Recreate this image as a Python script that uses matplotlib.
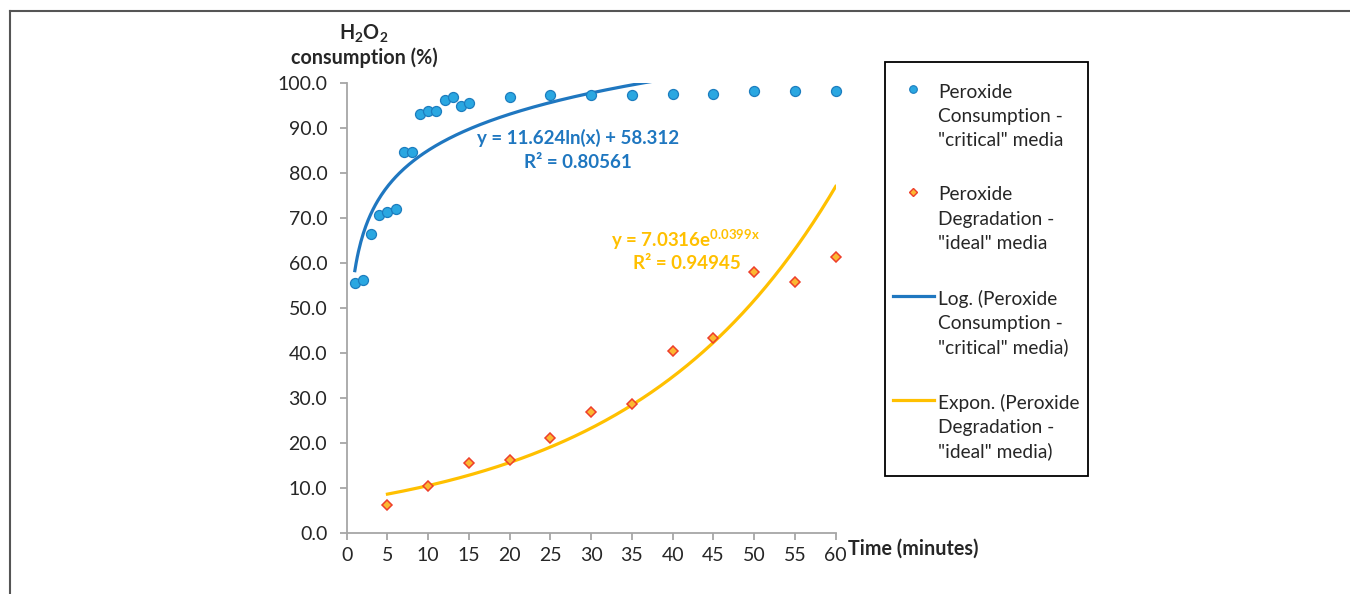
import numpy as np
import matplotlib
matplotlib.use("Agg")
import matplotlib.pyplot as plt
from matplotlib.lines import Line2D
from matplotlib.patches import Rectangle

plt.rcParams['font.family'] = ['Lato', 'DejaVu Sans']
plt.rcParams['mathtext.fontset'] = 'custom'
plt.rcParams['mathtext.rm'] = 'Lato'
plt.rcParams['mathtext.bf'] = 'Lato:bold'

# ---- data ----
crit_time = [1, 2, 3, 4, 5, 6, 7, 8, 9, 10, 11, 12, 13, 14, 15, 20, 25, 30, 35, 40, 45, 50, 55, 60]
crit_cons = [55.5, 56.2, 66.4, 70.8, 71.4, 72.1, 84.8, 84.8, 93.1, 93.8, 93.8, 96.3, 97.0, 94.9,
             95.6, 97.0, 97.5, 97.5, 97.5, 97.6, 97.6, 98.2, 98.2, 98.2]
ideal_time = [5, 10, 15, 20, 25, 30, 35, 40, 45, 50, 55, 60]
ideal_deg = [6.1, 10.4, 15.4, 16.1, 21.1, 26.8, 28.6, 40.5, 43.3, 58.1, 55.7, 61.3]

# trendline coefficients as displayed on the chart
log_a, log_b = 11.624, 58.312
exp_a, exp_b = 7.0316, 0.0399

x_ticks = list(range(0, 61, 5))
y_ticks = list(range(0, 101, 10))

legend_labels = [
    ['Peroxide', 'Consumption -', '"critical" media'],
    ['Peroxide', 'Degradation -', '"ideal" media'],
    ['Log. (Peroxide', 'Consumption -', '"critical" media)'],
    ['Expon. (Peroxide', 'Degradation -', '"ideal" media)'],
]

blue_fill = '#2AA7E1'
blue_edge = '#1C7DBF'
blue_line = '#1F77C0'
orange_fill = '#FBB832'
orange_edge = '#EE3E2A'
yellow_line = '#FFC000'
grey = '#A6A6A6'
text_col = '#262626'

W, H = 1350, 594
fig = plt.figure(figsize=(W / 100, H / 100), dpi=100)
ax = fig.add_axes([346.7 / W, 1 - 532.7 / H, (835.7 - 346.7) / W, (532.7 - 83.3) / H])

xl = np.linspace(min(crit_time), max(crit_time), 400)
ax.plot(xl, log_a * np.log(xl) + log_b, color=blue_line, lw=2.3, zorder=2)
xe = np.linspace(min(ideal_time), max(ideal_time), 400)
ax.plot(xe, exp_a * np.exp(exp_b * xe), color=yellow_line, lw=2.3, zorder=2)

ax.plot(crit_time, crit_cons, 'o', ms=7.2, mfc=blue_fill, mec=blue_edge, mew=0.9,
        clip_on=False, zorder=3)
ax.plot(ideal_time, ideal_deg, 'D', ms=5.4, mfc=orange_fill, mec=orange_edge, mew=1.1,
        clip_on=False, zorder=3)

ax.set_xlim(0, 60)
ax.set_ylim(0, 100)
ax.set_xticks(x_ticks)
ax.set_yticks(y_ticks)
ax.set_yticklabels([f"{v:.1f}" for v in y_ticks])
for s in ['top', 'right']:
    ax.spines[s].set_visible(False)
for s in ['left', 'bottom']:
    ax.spines[s].set_color(grey)
    ax.spines[s].set_linewidth(1.3)
ax.tick_params(axis='both', colors=grey, length=5, width=1.3, labelsize=14,
               labelcolor=text_col, direction='out')
ax.tick_params(axis='y', pad=9)
ax.tick_params(axis='x', pad=5)

# equations
EQ = 13.5
ax.text(28.4, 87.8, "y = 11.624ln(x) + 58.312", color=blue_line, fontsize=EQ,
        fontweight='bold', ha='center', va='center')
ax.text(28.4, 82.4, "R² = 0.80561", color=blue_line, fontsize=EQ,
        fontweight='bold', ha='center', va='center')
ax.text(41.6, 65.3, r"y = 7.0316e$^{\mathbf{0.0399x}}$", color=yellow_line, fontsize=EQ,
        fontweight='bold', ha='center', va='center')
ax.text(41.8, 60.0, "R² = 0.94945", color=yellow_line, fontsize=EQ,
        fontweight='bold', ha='center', va='center')

# axis titles
AT = 14.2
fig.text(364 / W, 1 - 34 / H, r"H$_\mathbf{2}$O$_\mathbf{2}$", fontsize=AT,
         fontweight='bold', color=text_col, ha='center', va='center')
fig.text(364 / W, 1 - 58 / H, "consumption (%)", fontsize=AT,
         fontweight='bold', color=text_col, ha='center', va='center')
fig.text(848 / W, 1 - 549 / H, "Time (minutes)", fontsize=AT,
         fontweight='bold', color=text_col, ha='left', va='center')

# legend (drawn manually to match the reference layout)
LF = 13.8
entry_top = [92, 195, 299, 403]
line_gap = 24.2
for i, lines in enumerate(legend_labels):
    for j, s in enumerate(lines):
        fig.text(938 / W, 1 - (entry_top[i] + j * line_gap) / H, s, fontsize=LF,
                 color=text_col, ha='left', va='center')
hy = [e - 3 for e in entry_top]
fig.add_artist(Line2D([913 / W], [1 - hy[0] / H], ls='none', marker='o', ms=5.5,
                      mfc=blue_fill, mec=blue_edge, mew=0.8))
fig.add_artist(Line2D([913 / W], [1 - hy[1] / H], ls='none', marker='D', ms=4.2,
                      mfc=orange_fill, mec=orange_edge, mew=1.0))
fig.add_artist(Line2D([893 / W, 934 / W], [1 - hy[2] / H] * 2, color=blue_line, lw=2.3))
fig.add_artist(Line2D([893 / W, 934 / W], [1 - hy[3] / H] * 2, color=yellow_line, lw=2.3))
fig.add_artist(Rectangle((885 / W, 1 - 476 / H), (1088 - 885) / W, (476 - 62) / H,
                         transform=fig.transFigure, fill=False, edgecolor='black', lw=1.3))

# figure border lines (top and left)
fig.add_artist(Line2D([10 / W, 1], [1 - 11 / H, 1 - 11 / H], color='#555555', lw=1.5))
fig.add_artist(Line2D([10 / W, 10 / W], [0, 1 - 11 / H], color='#555555', lw=1.5))

fig.savefig('out.png', dpi=100, facecolor='white')
